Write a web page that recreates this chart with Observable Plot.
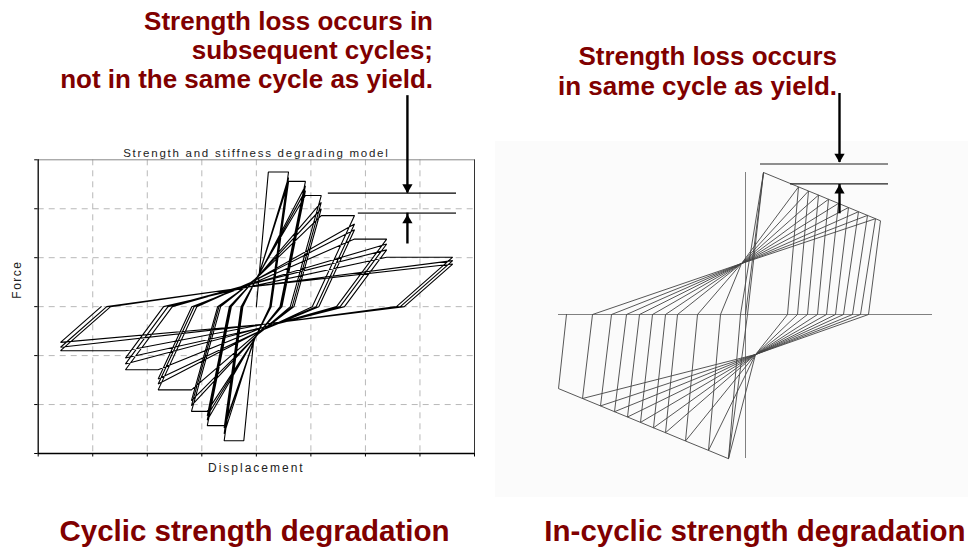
<!DOCTYPE html>
<html><head><meta charset="utf-8">
<script src="https://cdn.jsdelivr.net/npm/d3@7"></script>
<script src="https://cdn.jsdelivr.net/npm/@observablehq/plot@0.6"></script>
<style>
html,body{margin:0;padding:0;background:#fff;}
#wrap{position:relative;width:968px;height:547px;overflow:hidden;font-family:"Liberation Sans",Arial,sans-serif;}
.red{position:absolute;color:#800000;font-weight:bold;font-family:"Liberation Sans",Arial,sans-serif;white-space:nowrap;}
.big{font-size:29.5px;line-height:29.5px;text-align:center;top:516px;}
</style></head>
<body><div id="wrap">
<div style="position:absolute;left:495px;top:141px;width:473px;height:356px;background:#fbfbfb"></div>
<div id="left" style="position:absolute;left:0;top:0"></div>
<div id="right" style="position:absolute;left:495px;top:0"></div>
<div class="red" style="right:535px;top:6.5px;font-size:26px;line-height:29px;text-align:right">Strength loss occurs in<br>subsequent cycles;<br>not in the same cycle as yield.</div>
<div class="red" style="right:131px;top:41px;font-size:26px;line-height:30px;text-align:right">Strength loss occurs<br>in same cycle as yield.</div>
<div class="red big" style="left:0;width:509px">Cyclic strength degradation</div>
<div class="red big" style="left:455px;width:600px">In-cyclic strength degradation</div>
</div>
<script>
// ---------- Left panel: cyclic strength degradation ----------
const leftTitle = "Strength and stiffness degrading model";
const leftXLabel = "Displacement";
const leftYLabel = "Force";
const xTicks = [-4, -3, -2, -1, 0, 1, 2, 3, 4];
const yTicks = [-3, -2, -1, 0, 1, 2, 3];
const yieldDisp = [0.22, -0.23];
const dispPos = [0.59, 0.90, 1.19, 1.80, 2.39, 3.60];
const dispNeg = [-0.59, -0.90, -1.19, -1.80, -2.40, -3.59];
const forcePos = [[2.75, 2.64, 2.55], [2.56, 2.47, 2.37], [2.27, 2.13, 2.00], [1.86, 1.69, 1.57], [1.38, 1.28, 1.16], [1.01, 0.94, 0.87]];
const forceNeg = [[-2.74, -2.60, -2.48], [-2.43, -2.32, -2.23], [-2.14, -2.02, -1.92], [-1.70, -1.58, -1.48], [-1.29, -1.17, -1.05], [-0.90, -0.83, -0.73]];
const unloadSlope = [8, 5.5, 4, 2.4, 1.5, 0.98];
const pinchUp = [[0.06, 0.7], [0.04, 0.64], [0.0, 0.58], [-0.05, 0.52], [-0.1, 0.46], [-0.15, 0.4]];
const pinchDown = [[-0.05, -0.7], [-0.02, -0.63], [0.02, -0.57], [0.06, -0.5], [0.1, -0.43], [0.14, -0.36]];
const leftLevelLines = [{x1: 1.32, x2: 3.67, y: 2.32, c: "#000", w: 1.2}, {x1: 1.87, x2: 3.67, y: 1.91, c: "#555", w: 1.6}];
const leftArrows = [{x: 2.77, y1: 4.31, y2: 2.32, rot: 180, dy: -5.8}, {x: 2.77, y1: 1.28, y2: 1.91, rot: 0, dy: 7.2}];

const leftPath = [[0, 0]];
dispPos.forEach((d, i) => {
  forcePos[i].forEach((fp, c) => {
    const fn = forceNeg[i][c];
    if (!(i === 0 && c === 0)) leftPath.push(pinchUp[i]);
    if (c === 0) leftPath.push([i === 0 ? yieldDisp[0] : dispPos[i - 1], fp]);
    leftPath.push([d, fp]);
    leftPath.push([d - fp / unloadSlope[i], 0]);
    leftPath.push(pinchDown[i]);
    if (c === 0) leftPath.push([i === 0 ? yieldDisp[1] : dispNeg[i - 1], fn]);
    leftPath.push([dispNeg[i], fn]);
    leftPath.push([dispNeg[i] - fn / unloadSlope[i], 0]);
  });
});

const font = "Liberation Sans, Arial, sans-serif";
const leftPlot = Plot.plot({
  width: 490, height: 500,
  marginLeft: 37.7, marginRight: 16, marginTop: 159.3, marginBottom: 47,
  x: {domain: [-4, 4], ticks: xTicks, tickSize: 3.5, tickFormat: () => "", label: null},
  y: {domain: [-3, 3], ticks: yTicks, tickSize: 3.5, tickFormat: () => "", label: null},
  style: {background: "transparent", overflow: "visible", fontFamily: font, color: "#000"},
  marks: [
    Plot.ruleX(xTicks.slice(1, -1), {stroke: "#b8b8b8", strokeDasharray: "6,5"}),
    Plot.ruleY(yTicks.slice(1, -1), {stroke: "#b8b8b8", strokeDasharray: "6,5"}),
    Plot.ruleY([3], {stroke: "#888"}),
    Plot.ruleX([4], {stroke: "#333"}),
    Plot.line(leftPath, {stroke: "#000", strokeWidth: 1.1, strokeLinejoin: "miter"}),
    Plot.ruleX([-4], {stroke: "#000", strokeWidth: 1.3}),
    Plot.ruleY([-3], {stroke: "#000", strokeWidth: 1.3}),
    Plot.ruleY(leftLevelLines, {y: "y", x1: "x1", x2: "x2", stroke: d => d.c, strokeWidth: d => d.w}),
    Plot.ruleX(leftArrows, {x: "x", y1: "y1", y2: "y2", stroke: "#000", strokeWidth: 2.4}),
    Plot.dot(leftArrows, {x: "x", y: "y2", symbol: "triangle", rotate: "rot", r: 3.8, fill: "#000", stroke: "none"}),
    Plot.text([leftTitle], {frameAnchor: "top", dy: -11, fontSize: 11.5, fill: "#222"}),
    Plot.text([leftXLabel], {frameAnchor: "bottom", dy: 18, fontSize: 12, fill: "#222"}),
    Plot.text([leftYLabel], {frameAnchor: "left", dx: -21, dy: -8, rotate: -90, fontSize: 12, fill: "#222"})
  ]
});
document.getElementById("left").appendChild(leftPlot);
d3.select(leftPlot).selectAll("text").each(function() {
  const t = this.textContent;
  if (t === leftTitle) this.style.letterSpacing = "1.75px";
  if (t === leftXLabel) this.style.letterSpacing = "2px";
  if (t === leftYLabel) this.style.letterSpacing = "1.5px";
});
// shift arrow heads so their tips meet the level lines
d3.select(leftPlot).selectAll("path").filter(function() { return this.parentNode && this.parentNode.getAttribute("aria-label") === "dot"; })
  .each(function(d, i) {
    const tr = this.getAttribute("transform") || "";
    this.setAttribute("transform", `translate(0,${leftArrows[i].dy}) ` + tr);
  });

// ---------- Right panel: in-cycle strength degradation (px units) ----------
const rPosPeakX = [18, 53, 63, 73, 83, 93, 103, 113, 122, 130, 135];
const rPosPeakY = [142, 127.6, 123.5, 119.4, 115.2, 111.1, 107, 102.8, 99.1, 95.8, 93.7];
const rPosZeroX = [2, 42, 52, 62, 72, 81, 90, 98, 107, 115, 123];
const rNegPeakX = [-17, -37, -60, -80, -92, -105, -118, -131, -145, -163, -187];
const rNegPeakY = [-144.2, -135.9, -126.5, -118.2, -113.3, -107.9, -102.5, -97.2, -91.4, -84.0, -74.1];
const rNegZeroX = [-5, -25, -48, -68, -80, -93, -106, -119, -134, -153, -179];
const rPinchUp = [-4, 51];
const rPinchDown = [10, -40];
const rAxisX = {x1: -187, x2: 187};
const rAxisY = {y1: -144, y2: 142};
const rLevelLines = [{x1: 15, x2: 143, y: 150.5}, {x1: 45, x2: 143, y: 130.7}];
const rArrows = [{x: 94, y1: 221, y2: 152, rot: 180, dy: -5.8}, {x: 94, y1: 100.7, y2: 130, rot: 0, dy: 6}];

const rightPath = [[0, 0]];
rPosPeakX.forEach((px, k) => {
  if (k > 0) {
    if (rNegZeroX[k - 1] < rPinchUp[0] - 10) rightPath.push(rPinchUp);
    rightPath.push([rPosPeakX[k - 1], rPosPeakY[k - 1]]);
  }
  rightPath.push([px, rPosPeakY[k]]);
  rightPath.push([rPosZeroX[k], 0]);
  if (rPosZeroX[k] > rPinchDown[0] + 10) rightPath.push(rPinchDown);
  if (k > 0) rightPath.push([rNegPeakX[k - 1], rNegPeakY[k - 1]]);
  rightPath.push([rNegPeakX[k], rNegPeakY[k]]);
  rightPath.push([rNegZeroX[k], 0]);
});

const rightPlot = Plot.plot({
  width: 473, height: 547, margin: 0,
  x: {domain: [-250, 223], axis: null},
  y: {domain: [-233, 314], axis: null},
  style: {background: "transparent", overflow: "visible", fontFamily: font},
  marks: [
    Plot.ruleX([0], {y1: rAxisY.y1, y2: rAxisY.y2, stroke: "#808080", strokeWidth: 1}),
    Plot.ruleY([0], {x1: rAxisX.x1, x2: rAxisX.x2, stroke: "#808080", strokeWidth: 1}),
    Plot.line(rightPath, {stroke: "#444", strokeWidth: 0.9, strokeLinejoin: "miter"}),
    Plot.ruleY(rLevelLines, {y: "y", x1: "x1", x2: "x2", stroke: "#222", strokeWidth: 1.2}),
    Plot.ruleX(rArrows, {x: "x", y1: "y1", y2: "y2", stroke: "#000", strokeWidth: 2.4}),
    Plot.dot(rArrows, {x: "x", y: "y2", symbol: "triangle", rotate: "rot", r: 3.8, fill: "#000", stroke: "none"})
  ]
});
document.getElementById("right").appendChild(rightPlot);
d3.select(rightPlot).selectAll("path").filter(function() { return this.parentNode && this.parentNode.getAttribute("aria-label") === "dot"; })
  .each(function(d, i) {
    const tr = this.getAttribute("transform") || "";
    this.setAttribute("transform", `translate(0,${rArrows[i].dy}) ` + tr);
  });
</script>
</body></html>
